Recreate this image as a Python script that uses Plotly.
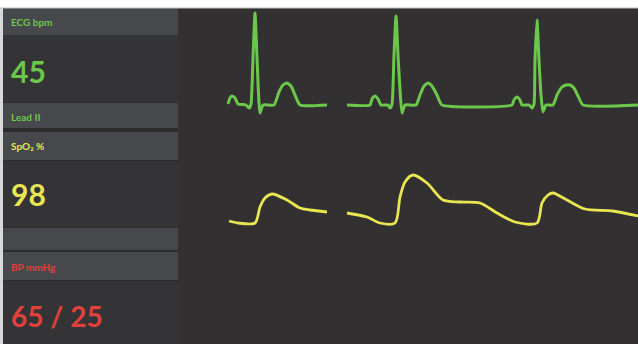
import plotly.graph_objects as go

W, H = 638, 344

# ---- data: ECG (Lead II), time in ms, amplitude in mV; None = sweep gap ----
ecg_t = [500, 520, 540, 570, 600, 680, 710, 730, 750, 770, 790, 820, 850, 960, 1010, 1050, 1090, 1130, 1170, 1220, 1490,
         None,
         1690, 1920, 1940, 1970, 2000, 2030, 2100, 2120, 2140, 2160, 2180, 2200, 2220, 2240, 2270, 2380, 2420, 2460,
         2500, 2540, 2590, 2640, 3340, 3360, 3390, 3420, 3440, 3510, 3540, 3560, 3570, 3590, 3610, 3630, 3650,
         3680, 3750, 3790, 3840, 3880, 3920, 3960, 4000, 4050, 4600]
ecg_mv = [0.02, 0.14, 0.18, 0.14, 0.02, 0.0, -0.06, 0.02, 0.95, 1.84, 0.95, -0.16, 0.0, 0.0, 0.26, 0.40, 0.44, 0.38, 0.20, 0.0, 0.0,
          None,
          0.0, 0.0, 0.12, 0.18, 0.12, 0.0, 0.0, -0.06, 0.02, 1.0, 1.78, 1.0, 0.3, -0.16, 0.0, 0.0, 0.2, 0.38,
          0.44, 0.38, 0.2, 0.0, 0.0, 0.1, 0.16, 0.1, 0.0, 0.0, -0.06, 0.02, 0.9, 1.7, 0.9, 0.2, -0.14,
          0.0, 0.0, 0.2, 0.36, 0.4, 0.4, 0.34, 0.18, 0.0, 0.0]

# ---- data: SpO2 plethysmograph, arbitrary units ----
pleth_t = [510, 600, 770, 820, 870, 940, 1090, 1220, 1320, 1490,
           None,
           1690, 1890, 2020, 2170, 2220, 2270, 2350, 2490, 2650, 2820, 3020, 3190, 3370, 3590, 3640, 3700,
           3750, 3890, 4070, 4350, 4600]
pleth_v = [0.2, 0.0, 0.0, 1.6, 2.5, 2.9, 2.3, 1.5, 1.3, 1.1,
           None,
           1.0, 0.6, 0.0, 0.0, 2.6, 4.1, 4.8, 4.0, 2.3, 2.1, 2.0, 1.0, 0.1, 0.0, 2.0, 2.8,
           3.0, 2.3, 1.4, 1.2, 0.7]

# ---- readouts ----
labels = ["ECG bpm", "Lead II", "SpO₂ %", "BP mmHg"]
values = ["45", "98", "65 / 25"]

GREEN = "#6cc84a"
YELLOW = "#e9e651"
RED = "#e2403b"
HEAD = "#46484b"
BODY = "#343436"
RIGHT = "#323031"
SEP = "#2c2c2e"

def px(x):
    return x / W

def py(y):
    return 1 - y / H

fig = go.Figure()

fig.add_trace(go.Scatter(x=ecg_t, y=ecg_mv, mode="lines", connectgaps=False,
                         line=dict(color=GREEN, width=3, shape="spline", smoothing=0.5),
                         xaxis="x", yaxis="y", hoverinfo="skip"))
fig.add_trace(go.Scatter(x=pleth_t, y=pleth_v, mode="lines", connectgaps=False,
                         line=dict(color=YELLOW, width=2.8, shape="spline", smoothing=0.8),
                         xaxis="x", yaxis="y2", hoverinfo="skip"))

shapes = []
def rect(x0, y0, x1, y1, color):
    shapes.append(dict(type="rect", xref="paper", yref="paper", x0=px(x0), x1=px(x1),
                       y0=py(y1), y1=py(y0), fillcolor=color, line=dict(width=0), layer="below"))

rect(0, 0, 638, 344, "#ffffff")
rect(0, 8, 3, 344, "#d8d8d8")
rect(178, 8, 638, 344, RIGHT)
rect(3, 8, 178, 344, SEP)
rect(3, 8, 178, 35, HEAD)
rect(3, 35, 178, 102, BODY)
rect(3, 103, 178, 128, HEAD)
rect(3, 132, 178, 160, HEAD)
rect(3, 161, 178, 227, BODY)
rect(3, 228, 178, 250, HEAD)
rect(3, 252, 178, 280, HEAD)
rect(3, 281, 178, 344, BODY)
shapes.append(dict(type="line", xref="paper", yref="paper", x0=0, x1=1, y0=py(8), y1=py(8),
                   line=dict(color="#bdbdbd", width=1), layer="below"))

ann = []
def text(x, y, s, color, size, bold=True):
    ann.append(dict(x=px(x), y=py(y), xref="paper", yref="paper", text=s, showarrow=False,
                    xanchor="left", yanchor="middle",
                    font=dict(family="Lato", size=size, color=color,
                              weight="bold" if bold else "normal")))

text(9, 22, labels[0], GREEN, 10)
text(9, 71, values[0], GREEN, 30)
text(9, 117, labels[1], GREEN, 10)
text(9, 146, labels[2], YELLOW, 10)
text(9, 194, values[1], YELLOW, 30)
text(9, 267, labels[3], RED, 10)
text(9, 316, values[2], RED, 28)

fig.update_layout(
    width=W, height=H, margin=dict(l=0, r=0, t=0, b=0),
    paper_bgcolor="#ffffff", plot_bgcolor="rgba(0,0,0,0)",
    showlegend=False, shapes=shapes, annotations=ann,
    xaxis=dict(domain=[px(178), 1], range=[0, 4600], visible=False, fixedrange=True),
    yaxis=dict(domain=[0, 1], range=[(105 - 344) / 50, 105 / 50], visible=False, fixedrange=True),
    yaxis2=dict(domain=[0, 1], range=[(223 - 344) / 10, 223 / 10], overlaying="y",
                visible=False, fixedrange=True),
)

fig.write_html("out.html", config={"displayModeBar": False},
               post_script="document.body.style.margin='0';document.body.style.overflow='hidden';")
